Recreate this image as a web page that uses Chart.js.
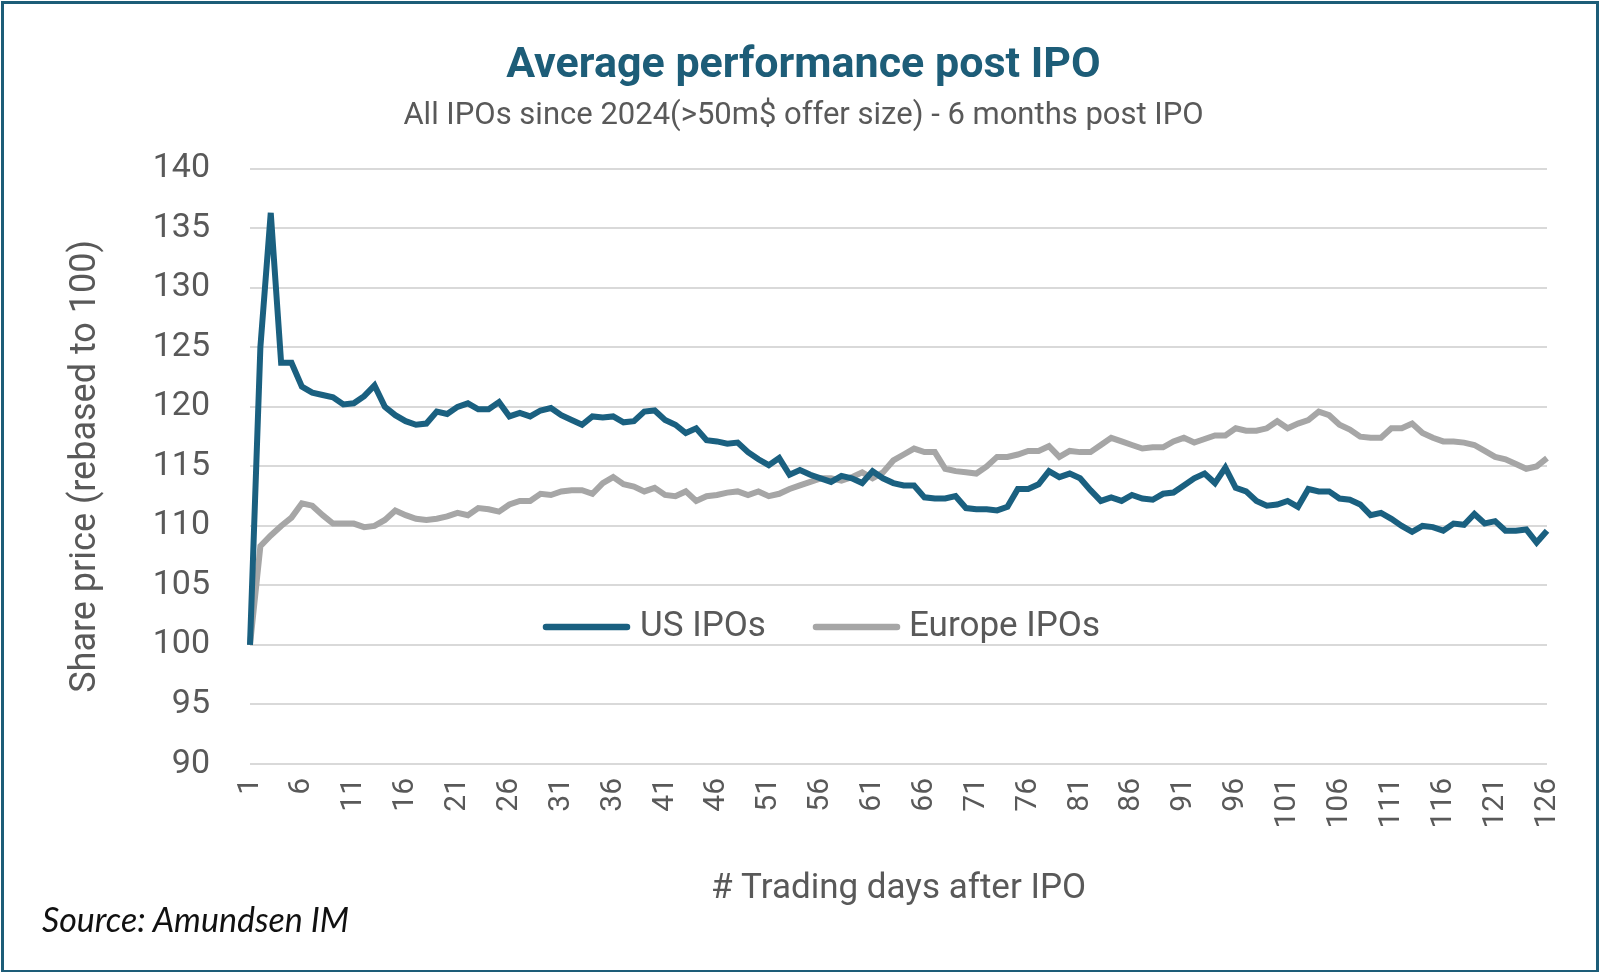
<!DOCTYPE html>
<html><head><meta charset="utf-8">
<script src="https://cdn.jsdelivr.net/npm/chart.js@4"></script>
<style>
html,body{margin:0;padding:0;background:#fff;}
#wrap{position:relative;width:1600px;height:972px;}
#frame{position:absolute;left:1px;top:1px;width:1592px;height:966px;border:3px solid #1d5d78;pointer-events:none;}
#src{position:absolute;left:42px;top:898px;font-family:Lato,"Open Sans",sans-serif;font-style:italic;font-size:34px;color:#111;}
</style></head><body>
<div id="wrap"><canvas id="c" width="1600" height="972"></canvas><div id="frame"></div><div id="src">Source: Amundsen IM</div></div>
<script>
const days = Array.from({length:126},(_,i)=>String(i+1));
const usIPOs = [100,125,136.3,123.7,123.7,121.7,121.2,121,120.8,120.2,120.3,120.9,121.8,120,119.3,118.8,118.5,118.6,119.6,119.4,120,120.3,119.8,119.8,120.4,119.2,119.5,119.2,119.7,119.9,119.3,118.9,118.5,119.2,119.1,119.2,118.7,118.8,119.6,119.7,118.9,118.5,117.8,118.2,117.2,117.1,116.9,117,116.2,115.6,115.1,115.7,114.3,114.7,114.3,114,113.7,114.2,114,113.6,114.6,114,113.6,113.4,113.4,112.4,112.3,112.3,112.5,111.5,111.4,111.4,111.3,111.6,113.1,113.1,113.5,114.6,114.1,114.4,114,113,112.1,112.4,112.1,112.6,112.3,112.2,112.7,112.8,113.4,114,114.4,113.6,114.9,113.2,112.9,112.1,111.7,111.8,112.1,111.6,113.1,112.9,112.9,112.3,112.2,111.8,110.9,111.1,110.6,110,109.5,110,109.9,109.6,110.2,110.1,111,110.2,110.4,109.6,109.6,109.7,108.6,109.6];
const europeIPOs = [100,108.3,109.2,110,110.7,111.9,111.7,110.9,110.2,110.2,110.2,109.9,110,110.5,111.3,110.9,110.6,110.5,110.6,110.8,111.1,110.9,111.5,111.4,111.2,111.8,112.1,112.1,112.7,112.6,112.9,113,113,112.7,113.6,114.1,113.5,113.3,112.9,113.2,112.6,112.5,112.9,112.1,112.5,112.6,112.8,112.9,112.6,112.9,112.5,112.7,113.1,113.4,113.7,114,114,113.8,114.1,114.5,114,114.5,115.5,116,116.5,116.2,116.2,114.8,114.6,114.5,114.4,115,115.8,115.8,116,116.3,116.3,116.7,115.8,116.3,116.2,116.2,116.8,117.4,117.1,116.8,116.5,116.6,116.6,117.1,117.4,117,117.3,117.6,117.6,118.2,118,118,118.2,118.8,118.2,118.6,118.9,119.6,119.3,118.5,118.1,117.5,117.4,117.4,118.2,118.2,118.6,117.8,117.4,117.1,117.1,117,116.8,116.3,115.8,115.6,115.2,114.8,115,115.7];
const yTicks = [90,95,100,105,110,115,120,125,130,135,140];
const US_COL='#1a6080', EU_COL='#a6a6a6';
const F='Roboto, "Open Sans", sans-serif';
const legendPlugin={id:'lg',afterDraw(ch){const c=ch.ctx,y=ch.scales.y.getPixelForValue(101.5);c.save();c.lineCap='round';c.lineWidth=6.5;
 c.font='35px '+F;c.fillStyle='#595959';c.textBaseline='middle';
 c.strokeStyle=US_COL;c.beginPath();c.moveTo(546,y);c.lineTo(627,y);c.stroke();c.fillText('US IPOs',640,y);
 c.strokeStyle=EU_COL;c.beginPath();c.moveTo(816,y);c.lineTo(897,y);c.stroke();c.fillText('Europe IPOs',909,y);c.restore();}};
new Chart(document.getElementById('c'),{type:'line',
data:{labels:days,datasets:[
{label:'US IPOs',data:usIPOs,borderColor:US_COL,borderWidth:6,pointRadius:0,tension:0},
{label:'Europe IPOs',data:europeIPOs,borderColor:EU_COL,borderWidth:6,pointRadius:0,tension:0}]},
options:{responsive:false,animation:false,devicePixelRatio:1,
layout:{padding:{left:60,right:53,top:40,bottom:58}},
plugins:{legend:{display:false},tooltip:{enabled:false},
 title:{display:true,text:'Average performance post IPO',color:'#1d5d78',font:{family:F,size:43,weight:'bold'},padding:{top:0,bottom:6}},
 subtitle:{display:true,text:'All IPOs since 2024(>50m$ offer size) - 6 months post IPO',color:'#595959',font:{family:F,size:31},padding:{bottom:34}}},
scales:{
 x:{offset:false,grid:{display:false},border:{display:false},
  ticks:{autoSkip:false,minRotation:90,maxRotation:90,color:'#595959',font:{family:F,size:30},padding:6,
   callback:(v,i)=>i%5===0?days[i]:''},
  title:{display:true,text:'# Trading days after IPO',color:'#595959',font:{family:F,size:35},padding:{top:22}},
  afterFit:s=>{s.height=150;}},
 y:{min:90,max:140,afterBuildTicks:s=>{s.ticks=yTicks.map(v=>({value:v}));},
  grid:{color:'#d9d9d9',lineWidth:2,drawTicks:false},border:{display:false},
  ticks:{color:'#595959',font:{family:F,size:34},padding:40},
  title:{display:true,text:'Share price (rebased to 100)',color:'#595959',font:{family:F,size:36},padding:{bottom:0}},
  afterFit:s=>{s.width=190;}}}},
plugins:[legendPlugin]});
</script></body></html>
